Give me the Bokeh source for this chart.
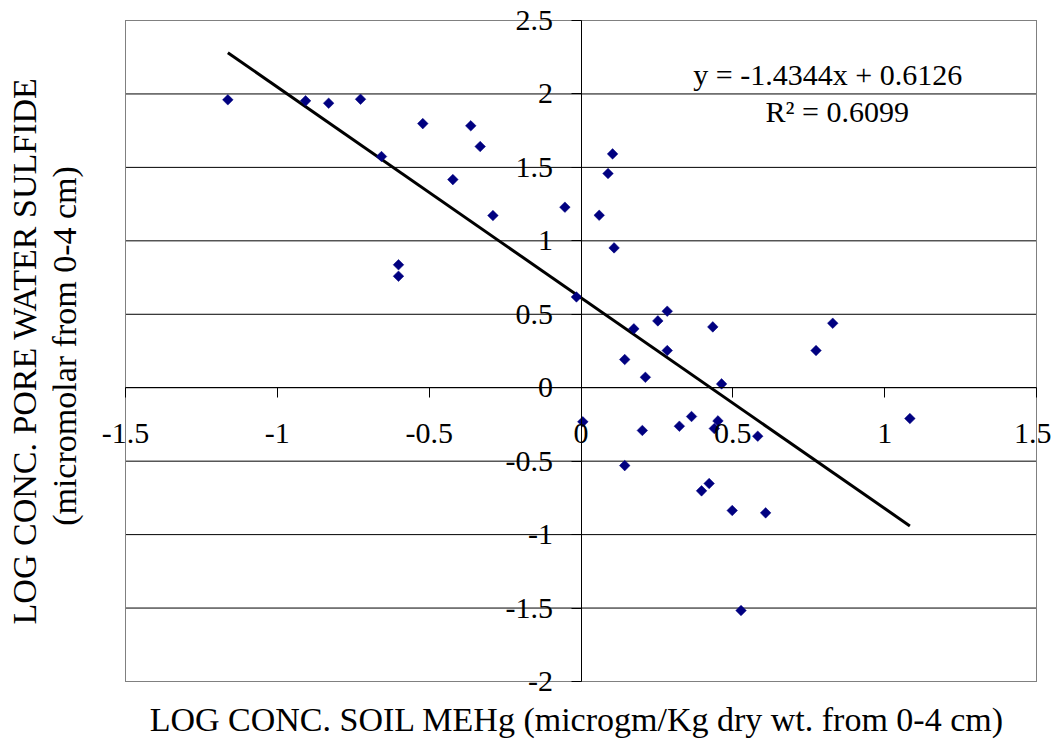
import math
from bokeh.plotting import figure
from bokeh.models import Range1d, FixedTicker, Label, ColumnDataSource, LinearAxis
from bokeh.embed import file_html
from bokeh.resources import INLINE

# ---- data ----
log_mehg = [-1.163, -0.907, -0.831, -0.726, -0.521, -0.363, -0.332, -0.657,
            -0.422, -0.290, -0.601, -0.601, -0.053, 0.104, 0.089, 0.060,
            0.109, -0.015, 0.284, 0.253, 0.174, 0.434, 0.829, 0.774,
            0.284, 0.144, 0.212, 0.463, 0.006, 0.202, 0.324, 0.364,
            0.451, 0.439, 0.582, 0.144, 0.422, 0.397, 0.498, 0.608,
            1.083, 0.527]
log_sulfide = [1.960, 1.953, 1.937, 1.964, 1.798, 1.783, 1.642, 1.574,
               1.417, 1.172, 0.837, 0.759, 1.229, 1.592, 1.458, 1.174,
               0.952, 0.618, 0.521, 0.455, 0.401, 0.414, 0.439, 0.253,
               0.253, 0.192, 0.071, 0.026, -0.232, -0.291, -0.262, -0.196,
               -0.226, -0.278, -0.330, -0.530, -0.652, -0.702, -0.836, -0.852,
               -0.210, -1.517]

slope = -1.4344
intercept = 0.6126
r_squared = "0.6099"

x_ticks = [-1.5, -1.0, -0.5, 0.0, 0.5, 1.0, 1.5]
x_tick_labels = ["-1.5", "-1", "-0.5", "0", "0.5", "1", "1.5"]
y_ticks = [-2.0, -1.5, -1.0, -0.5, 0.0, 0.5, 1.0, 1.5, 2.0, 2.5]
y_tick_labels = ["-2", "-1.5", "-1", "-0.5", "0", "0.5", "1", "1.5", "2", "2.5"]

x_title = "LOG CONC. SOIL MEHg (microgm/Kg dry wt. from 0-4 cm)"
y_title_1 = "LOG CONC. PORE WATER SULFIDE"
y_title_2 = "(micromolar from 0-4 cm)"

FONT = "Liberation Serif"
TICK_FS = "30px"
TITLE_FS = "34px"

# plot box limits (data) and its placement inside the canvas (pixels)
X0, X1 = -1.5, 1.5
Y0, Y1 = -2.0, 2.5
W, H = 1051, 740
BOX_L, BOX_R, BOX_T, BOX_B = 125, 1036, 20, 681
ppx = (BOX_R - BOX_L) / (X1 - X0)
ppy = (BOX_B - BOX_T) / (Y1 - Y0)
x_range = Range1d(X0 - BOX_L / ppx, X1 + (W - BOX_R) / ppx)
y_range = Range1d(Y0 - (H - BOX_B) / ppy, Y1 + BOX_T / ppy)

p = figure(width=W, height=H, output_backend="svg", toolbar_location=None,
           x_range=x_range, y_range=y_range,
           x_axis_location=None, y_axis_location=None, min_border=0)
p.grid.visible = False
p.background_fill_color = "white"
p.border_fill_color = "white"
p.outline_line_color = None

# horizontal gridlines at the y ticks, spanning the plot box
p.segment(x0=[X0] * len(y_ticks), x1=[X1] * len(y_ticks), y0=y_ticks, y1=y_ticks,
          line_color="black", line_width=1)
# plot box border
p.quad(left=[X0], right=[X1], bottom=[Y0], top=[Y1], fill_color=None,
       line_color="#808080", line_width=1)

xaxis = LinearAxis(ticker=FixedTicker(ticks=x_ticks), fixed_location=0, bounds=(X0, X1),
                   major_label_overrides={t: l for t, l in zip(x_ticks, x_tick_labels)})
yaxis = LinearAxis(ticker=FixedTicker(ticks=y_ticks), fixed_location=0, bounds=(Y0, Y1),
                   major_label_overrides={t: l for t, l in zip(y_ticks, y_tick_labels)})
for ax in (xaxis, yaxis):
    ax.axis_line_color = "black"
    ax.axis_line_width = 1
    ax.major_tick_line_color = "black"
    ax.major_tick_out = 10
    ax.major_tick_in = 0
    ax.minor_tick_line_color = None
    ax.major_label_text_font = FONT
    ax.major_label_text_font_size = TICK_FS
    ax.major_label_text_color = "black"
xaxis.major_label_standoff = 26
yaxis.major_label_standoff = 18
p.add_layout(xaxis, "below")
p.add_layout(yaxis, "left")

# trendline over the data's x extent
lx = [min(log_mehg), max(log_mehg)]
ly = [slope * v + intercept for v in lx]
p.line(lx, ly, line_color="black", line_width=3)

src = ColumnDataSource(dict(x=log_mehg, y=log_sulfide))
p.scatter("x", "y", source=src, marker="square", angle=math.pi / 4, size=7.5,
          fill_color="#000080", line_color="#000080", line_width=0.5)

p.add_layout(Label(x=0.37, y=2.132, text=f"y = {slope}x + {intercept}",
                   text_font=FONT, text_font_size=TICK_FS, text_baseline="middle",
                   text_align="left", text_color="black"))
p.add_layout(Label(x=0.6075, y=1.880, text=f"R\u00b2 = {r_squared}",
                   text_font=FONT, text_font_size=TICK_FS, text_baseline="middle",
                   text_align="left", text_color="black"))

# axis titles (placed relative to the plot box edges)
p.add_layout(Label(x=(X0 + X1) / 2, y=Y0, y_offset=-38, x_offset=-4, text=x_title,
                   text_font=FONT, text_font_size=TITLE_FS, text_align="center",
                   text_baseline="middle", text_color="black"))
p.add_layout(Label(x=X0, y=(Y0 + Y1) / 2, x_offset=-61, y_offset=5, text=y_title_2,
                   angle=math.pi / 2, text_font=FONT, text_font_size=TITLE_FS,
                   text_align="center", text_baseline="middle", text_color="black"))
p.add_layout(Label(x=X0, y=(Y0 + Y1) / 2, x_offset=-101, text=y_title_1,
                   angle=math.pi / 2, text_font=FONT, text_font_size=TITLE_FS,
                   text_align="center", text_baseline="middle", text_color="black"))

open("out.html", "w").write(file_html(p, INLINE))
